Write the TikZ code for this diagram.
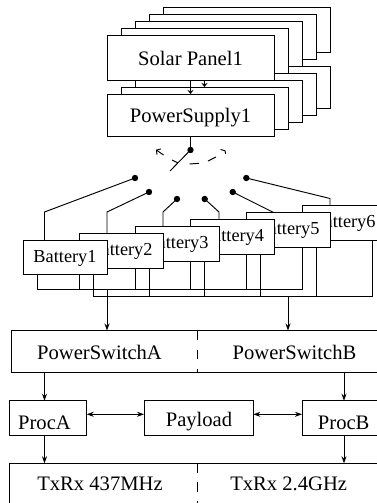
\documentclass[tikz,border=0pt]{standalone}
\usepackage{fontspec}
\setmainfont{Liberation Serif}
\usetikzlibrary{arrows.meta,backgrounds}
\tikzset{
  box/.style={draw,fill=white,inner sep=0pt,outer sep=0pt},
  solarbox/.style={box,minimum width=167pt,minimum height=45pt},
  supplybox/.style={box,minimum width=167pt,minimum height=42pt},
  batbox/.style={box,minimum width=84pt,minimum height=34.7pt},
  lab/.style={anchor=base,inner sep=0pt,font=\fontsize{20.6}{24}\selectfont},
  batlab/.style={anchor=base,inner sep=0pt,font=\fontsize{18.3}{22}\selectfont},
  contact/.style={circle,fill=black,inner sep=0pt,minimum size=6.4pt},
  arr/.style={-{Stealth[length=7pt,width=5pt]}},
  arrs/.style={-{Stealth[length=4pt,width=6pt]}},
  dbl/.style={{Stealth[length=7pt,width=5pt]}-{Stealth[length=7pt,width=5pt]}},
  divider/.style={dash pattern=on 9.5pt off 9.5pt},
}
\begin{document}
\begin{tikzpicture}[x=1pt,y=-1pt,line width=0.95pt]
\useasboundingbox (0,0) rectangle (377,503);
\clip (0,0) rectangle (377,503);
% power supply stack
\node[supplybox] (p4) at (246.5,87) {};
\node[supplybox] (p3) at (232.5,94) {};
\node[supplybox] (p2) at (218.5,101) {};
\node[supplybox] (p1) at (204.5,108) {};
\node[supplybox] (ps) at (190.5,115) {};
% solar stack
\node[solarbox] (s4) at (246.5,29.5) {};
\node[solarbox] (s3) at (232.5,36.5) {};
\node[solarbox] (s2) at (218.5,43.5) {};
\node[solarbox] (s1) at (204.5,50.5) {};
\node[solarbox] (solar) at (190.5,57.5) {};
\node[lab] (solart) at (190.5,66) {Solar Panel1};
\node[lab] (pst) at (190.5,122.5) {PowerSupply1};
\draw[arrs] (solar.south) -- (ps.north);
\draw[arrs] (s1.south |- solar.south) -- (p1.north);
% switch
\node[contact] (pole) at (190.5,150) {};
\draw (ps.south) -- (pole.center);
\coordinate (bladeend) at (170,171);
\draw (pole.center) -- (bladeend);
\draw (172,160) -- (178,163);
\draw[-{Straight Barb[length=3pt,width=7pt]}] (163.5,155) -- (156,149.7);
\draw (189.5,164) -- (199,163.3);
\draw (208,161) -- (216,157);
\draw (220.5,149.5) -- (225,150.7) -- (225.6,154);
% contacts
\node[contact] (c1) at (135,178) {};
\node[contact] (c2) at (149,192) {};
\node[contact] (c3) at (177,199) {};
\node[contact] (c4) at (204.7,199) {};
\node[contact] (c5) at (232.7,192) {};
\node[contact] (c6) at (246.3,178) {};
\coordinate (k1) at (44.5,212);
\coordinate (k2) at (107,212);
\coordinate (k3) at (163,212);
\coordinate (k4) at (219,212);
\coordinate (k5) at (274,212.7);
\coordinate (k6) at (330,198.5);
% batteries, back to front
\node[batbox] (b6) at (344,223) {};
\node[batlab] (b6t) at (344,227) {Battery6};
\node[batbox] (b5) at (288,230) {};
\node[batlab] (b5t) at (288,234) {Battery5};
\node[batbox] (b4) at (232.5,237) {};
\node[batlab] (b4t) at (232.5,241) {Battery4};
\node[batbox] (b3) at (177,243.7) {};
\node[batlab] (b3t) at (177,248) {Battery3};
\node[batbox] (b2) at (121,250.7) {};
\node[batlab] (b2t) at (121,255) {Battery2};
\node[batbox] (b1) at (65,257.5) {};
\node[batlab] (b1t) at (65,262) {Battery1};
% bus
\coordinate (busa) at (37.5,289);
\coordinate (busb) at (93,296);
\coordinate (busaend) at (302,289);
\coordinate (busbend) at (372,296);
\begin{scope}[on background layer]
\begin{scope}[line width=0.95pt]
\fill[white] (0,0) rectangle (377,503);
\draw (c1.center) -- (k1) -- (k1 |- b1.north);
\draw (c2.center) -- (k2) -- (k2 |- b2.north);
\draw (c3.center) -- (k3) -- (k3 |- b3.north);
\draw (c4.center) -- (k4) -- (k4 |- b4.north);
\draw (c5.center) -- (k5);
\draw (c6.center) -- (k6) -- (k6 |- b6.north);
\draw (busa |- b1.south) -- (busa) -- (busaend) -- (busaend |- b5.south);
\draw (busb |- b1.south) -- (busb) -- (busbend) -- (busbend |- b6.south);
\draw (79,275) -- (79,289);
\draw (135,268) -- (135,289);
\draw (149,268) -- (149,296);
\draw (190.7,261) -- (190.7,289);
\draw (204.7,261) -- (204.7,296);
\draw (246.3,254) -- (246.3,289);
\draw (260.3,254) -- (260.3,296);
\draw (316,247) -- (316,296);
\end{scope}
\end{scope}
% power switch
\node[box,minimum width=370pt,minimum height=42.2pt] (psw) at (196.5,351.6) {};
\draw[divider] (197.5,330.5) -- (197.5,372.7);
\node[lab] (pswa) at (99.5,359) {PowerSwitchA};
\node[lab] (pswb) at (294.5,359) {PowerSwitchB};
\draw[arr] (107,289) -- (psw.north -| 107,0);
\draw[arr] (288,296) -- (psw.north -| 288,0);
% processors
\node[box,minimum width=77.2pt,minimum height=34.6pt] (pa) at (48.1,418) {};
\node[box,minimum width=109.3pt,minimum height=34.6pt] (pay) at (198.7,418) {};
\node[box,minimum width=80pt,minimum height=34.6pt] (pb) at (342,418) {};
\node[lab] (pat) at (44.5,429) {ProcA};
\node[lab] (payt) at (199,426) {Payload};
\node[lab] (pbt) at (343.7,429) {ProcB};
\draw[arr] (psw.south -| 44.5,0) -- (pa.north -| 44.5,0);
\draw[arr] (psw.south -| 344,0) -- (pb.north -| 344,0);
\draw[dbl] (pa.east |- 0,414.3) -- (pay.west |- 0,414.3);
\draw[dbl] (pay.east |- 0,414.3) -- (pb.west |- 0,414.3);
% radios
\node[box,minimum width=380pt,minimum height=60pt] (tx) at (199.5,493.3) {};
\draw[divider] (197.3,463.3) -- (197.3,503);
\node[lab] (txa) at (100,490.7) {TxRx 437MHz};
\node[lab] (txb) at (288.7,490.7) {TxRx 2.4GHz};
\draw[arr] (pa.south -| 44.5,0) -- (tx.north -| 44.5,0);
\draw[arr] (pb.south -| 344,0) -- (tx.north -| 344,0);
\end{tikzpicture}
\end{document}
